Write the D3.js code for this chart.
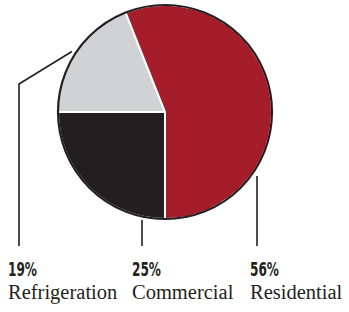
<!DOCTYPE html>
<html>
<head>
<meta charset="utf-8">
<script src="https://cdn.jsdelivr.net/npm/d3@7"></script>
<style>
  body { margin: 0; background: #fff; }
  svg { display: block; }
</style>
</head>
<body>
<svg id="chart" width="349" height="312"></svg>
<script>
// pie data, drawn clockwise starting from 6 o'clock
const categories = ["Commercial", "Refrigeration", "Residential"];
const shares = [25, 19, 56];
const sliceColors = ["#231f20", "#d1d2d4", "#a51c2a"];

// label order along the bottom
const labelOrder = ["Refrigeration", "Commercial", "Residential"];

const svg = d3.select("#chart");
const cx = 165, cy = 112, r = 107;

const pie = d3.pie().sort(null).value(d => d.value)
  .startAngle(Math.PI).endAngle(3 * Math.PI);
const arcs = pie(categories.map((c, i) => ({ name: c, value: shares[i] })));
const arc = d3.arc().innerRadius(0).outerRadius(r);

const g = svg.append("g").attr("transform", `translate(${cx},${cy})`);
g.selectAll("path.slice").data(arcs).join("path")
  .attr("class", "slice")
  .attr("d", arc)
  .attr("fill", (d, i) => sliceColors[i])
  .attr("stroke", "#fff")
  .attr("stroke-width", 2)
  .attr("stroke-linejoin", "round");
g.append("circle").attr("r", r)
  .attr("fill", "none").attr("stroke", "#231f20").attr("stroke-width", 2.2);

// bottom labels
const colX = { Refrigeration: 8, Commercial: 132, Residential: 250 };
const leaderX = { Refrigeration: 19, Commercial: 142, Residential: 257 };
const lineBottom = 246;

// leader lines: start where each line meets the pie
function pointOnCircle(deg) {
  const a = deg * Math.PI / 180;
  return [cx + (r + 4) * Math.sin(a), cy - (r + 4) * Math.cos(a)];
}
const leaders = {
  Refrigeration: [pointOnCircle(-57), [leaderX.Refrigeration, 84], [leaderX.Refrigeration, lineBottom]],
  Commercial: [[leaderX.Commercial, 220], [leaderX.Commercial, lineBottom]],
  Residential: [[leaderX.Residential, 176], [leaderX.Residential, lineBottom]]
};
const line = d3.line();
labelOrder.forEach(name => {
  svg.append("path").attr("d", line(leaders[name]))
    .attr("fill", "none").attr("stroke", "#231f20").attr("stroke-width", 1.6);
});

labelOrder.forEach(name => {
  const v = shares[categories.indexOf(name)];
  svg.append("text")
    .attr("x", colX[name]).attr("y", 276)
    .attr("font-family", "'Liberation Sans Narrow', 'DejaVu Sans Condensed', 'Roboto', sans-serif")
    .attr("font-weight", "bold")
    .attr("font-size", 20)
    .attr("textLength", 29).attr("lengthAdjust", "spacingAndGlyphs")
    .attr("fill", "#231f20")
    .text(v + "%");
  svg.append("text")
    .attr("x", colX[name]).attr("y", 299)
    .attr("font-family", "'Liberation Serif', 'DejaVu Serif', serif")
    .attr("font-size", 20.5)
    .attr("fill", "#231f20")
    .text(name);
});
</script>
</body>
</html>
